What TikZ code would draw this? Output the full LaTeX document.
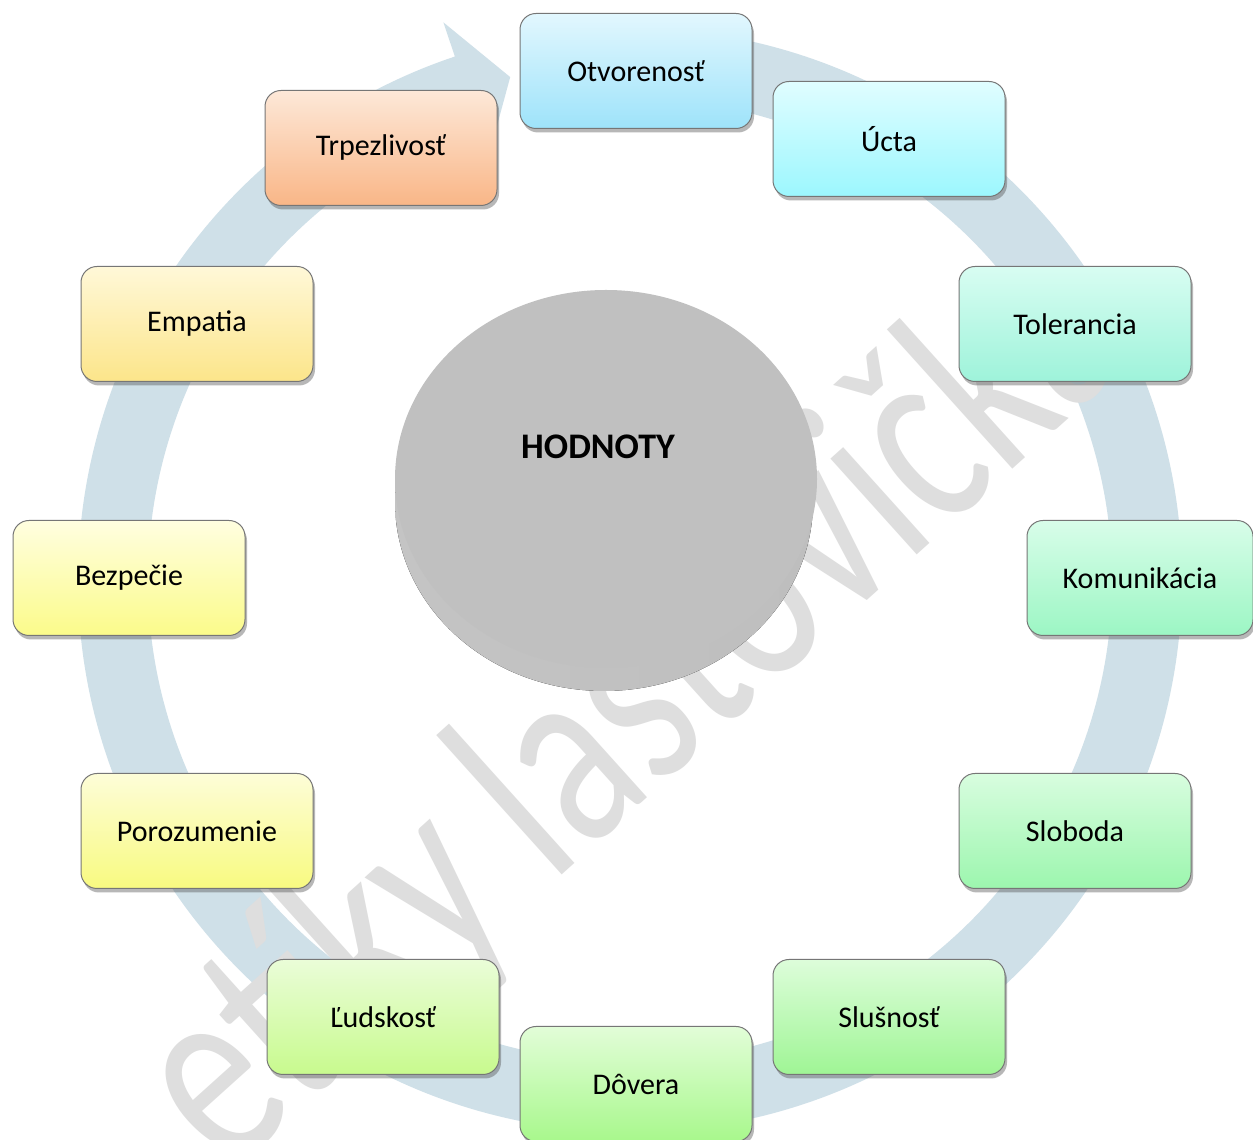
\documentclass[tikz,border=0pt]{standalone}
\usepackage{fontspec}
\setmainfont{Carlito}
\usetikzlibrary{shadows}
\definecolor{bandc}{RGB}{207,224,232}
\definecolor{wmark}{RGB}{222,222,222}
\definecolor{boxline}{RGB}{118,118,118}
\definecolor{otvT}{HTML}{E2F7FE}\definecolor{otvB}{HTML}{9EE3FA}
\definecolor{uctaT}{HTML}{E0FDFF}\definecolor{uctaB}{HTML}{9CF7FE}
\definecolor{tolT}{HTML}{D8FDF2}\definecolor{tolB}{HTML}{9EF3DA}
\definecolor{komT}{HTML}{D8FDE9}\definecolor{komB}{HTML}{9CF6C4}
\definecolor{sloT}{HTML}{D8FDDF}\definecolor{sloB}{HTML}{9CF6AE}
\definecolor{slusT}{HTML}{DDFDDA}\definecolor{slusB}{HTML}{9FF595}
\definecolor{dovT}{HTML}{E2FDD8}\definecolor{dovB}{HTML}{A8F88C}
\definecolor{ludT}{HTML}{EAFDD8}\definecolor{ludB}{HTML}{C8FA8E}
\definecolor{porT}{HTML}{FDFDD8}\definecolor{porB}{HTML}{F8FA80}
\definecolor{bezT}{HTML}{FFFEE0}\definecolor{bezB}{HTML}{FBFB8A}
\definecolor{empT}{HTML}{FFF8D8}\definecolor{empB}{HTML}{FCE58A}
\definecolor{trpT}{HTML}{FDE8D8}\definecolor{trpB}{HTML}{F9B687}
\definecolor{discTop}{RGB}{192,192,192}
\definecolor{discL}{RGB}{196,196,196}
\definecolor{discM}{RGB}{146,146,146}
\definecolor{discR}{RGB}{190,190,190}
\tikzset{
  valbox/.style 2 args={draw=boxline, line width=1pt, rounded corners=16pt,
    minimum width=232pt, minimum height=115pt, inner sep=0pt,
    font=\fontsize{30}{34}\selectfont, top color=#1, bottom color=#2,
    drop shadow={shadow xshift=2pt, shadow yshift=-4pt, opacity=0.4, fill=black!70}},
  watermarktext/.style={text=wmark, rotate=42, inner sep=0pt,
    font=\fontsize{270}{270}\selectfont},
  centertext/.style={font=\bfseries\fontsize{36}{40}\selectfont, inner sep=0pt},
}
\begin{document}
\begin{tikzpicture}[x=1pt, y=1pt]
\useasboundingbox (0,0) rectangle (1253,1140);
\clip (0,0) rectangle (1253,1140);
\fill[white] (0,0) rectangle (1253,1140);
% cycle arrow band
\begin{scope}[shift={(630,560)}]
  \fill[bandc] (85:552) arc[start angle=85, end angle=-251.5, radius=552]
    -- (-251.5:588) -- (-256.6:517) -- (-251.5:446) -- (-251.5:482)
    arc[start angle=-251.5, end angle=85, radius=482] -- cycle;
\end{scope}
% watermark
\node[watermarktext] (wm) at (635,428) {\scalebox{0.74}[1]{etíky lastovička}};
% central disc
\fill[left color=discL, middle color=discM, right color=discR]
  (604,638) ellipse[x radius=209, y radius=189];
\fill[discTop] (606,661) ellipse[x radius=211, y radius=189];
\node[centertext] (hod) at (598,693) {HODNOTY};
% value boxes
\node[valbox={otvT}{otvB}] (otv) at (636,1069) {Otvorenosť};
\node[valbox={uctaT}{uctaB}] (ucta) at (889,1001) {Úcta};
\node[valbox={tolT}{tolB}] (tol) at (1075,816) {Tolerancia};
\node[valbox={komT}{komB}, minimum width=226pt] (kom) at (1140,562) {Komunikácia};
\node[valbox={sloT}{sloB}] (slo) at (1075,309) {Sloboda};
\node[valbox={slusT}{slusB}] (slus) at (889,123) {Slušnosť};
\node[valbox={dovT}{dovB}] (dov) at (636,56) {Dôvera};
\node[valbox={ludT}{ludB}] (lud) at (383,123) {Ľudskosť};
\node[valbox={porT}{porB}] (por) at (197,309) {Porozumenie};
\node[valbox={bezT}{bezB}] (bez) at (129,562) {Bezpečie};
\node[valbox={empT}{empB}] (emp) at (197,816) {Empatia};
\node[valbox={trpT}{trpB}] (trp) at (381,992) {Trpezlivosť};
\end{tikzpicture}
\end{document}
